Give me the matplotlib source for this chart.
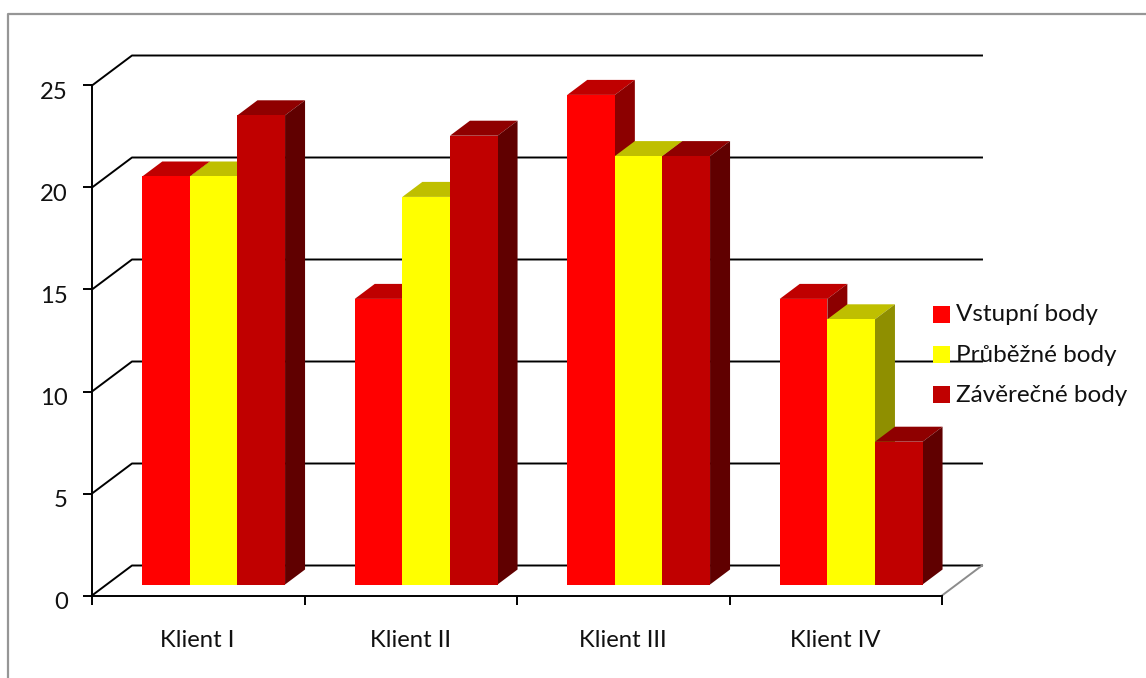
import matplotlib
matplotlib.use('Agg')
import matplotlib.pyplot as plt
from matplotlib.patches import Polygon, Rectangle
from matplotlib.transforms import ScaledTranslation

plt.rcParams['font.family'] = ['Lato', 'DejaVu Sans']

clients = ['Klient I', 'Klient II', 'Klient III', 'Klient IV']
vstupni = [20, 14, 24, 14]
prubezne = [20, 19, 21, 13]
zaverecne = [23, 22, 21, 7]
series_names = ['Vstupní body', 'Průběžné body', 'Závěrečné body']
y_ticks = [0, 5, 10, 15, 20, 25]

# front, top, side
red_faces = ['#ff0000', '#bf0000', '#8c0000']
yellow_faces = ['#ffff00', '#bfbf00', '#8f8f00']
dark_faces = ['#c00000', '#8f0000', '#600000']

W, H = 1146, 678
AX_L, AX_R, AX_T, AX_B = 92, 942, 85.5, 595.5
fig = plt.figure(figsize=(W / 100, H / 100), dpi=100)
ax = fig.add_axes([AX_L / W, 1 - AX_B / H, (AX_R - AX_L) / W, (AX_B - AX_T) / H])
ax.set_xlim(0, 4)
ax.set_ylim(0, 25)
ax.patch.set_alpha(0)

# one pixel expressed in data units
px_x = 4 / (AX_R - AX_L)
px_y = 25 / (AX_B - AX_T)

# outer frame of the chart area
fig.add_artist(plt.Line2D([7.7 / W, 7.7 / W, 1], [0, 1 - 13.5 / H, 1 - 13.5 / H],
                          color='#969696', lw=1.6))

# back wall grid and the slanted lines on the side wall
wall_dx, wall_dy = 40 * px_x, 30 * px_y
for v in y_ticks:
    ax.plot([0, wall_dx, 4 + wall_dx], [v, v + wall_dy, v + wall_dy],
            color='black', lw=1.4, clip_on=False, zorder=1)
ax.plot([4, 4 + wall_dx], [0, wall_dy], color='#8c8c8c', lw=1.4, clip_on=False, zorder=1)

bar_w = 47.6 * px_x
first_left = 0.2365
floor = 11 * px_y
depth_x, depth_y = 20 * px_x, 15 * px_y


def draw_bar(left, value, faces, z):
    top = floor + value
    right = left + bar_w
    ax.add_patch(Polygon([(left, top), (right, top), (right + depth_x, top + depth_y),
                          (left + depth_x, top + depth_y)], closed=True,
                         fc=faces[1], ec='none', clip_on=False, zorder=z))
    ax.add_patch(Polygon([(right, floor), (right + depth_x, floor + depth_y),
                          (right + depth_x, top + depth_y), (right, top)], closed=True,
                         fc=faces[2], ec='none', clip_on=False, zorder=z))
    ax.add_patch(Rectangle((left, floor), bar_w, value, fc=faces[0], ec='none',
                           clip_on=False, zorder=z))


for i in range(len(clients)):
    row = [vstupni[i], prubezne[i], zaverecne[i]]
    for j, (val, faces) in enumerate(zip(row, [red_faces, yellow_faces, dark_faces])):
        draw_bar(i + first_left + j * bar_w, val, faces, 2 + i + j * 0.1)

# axes
for s in ['top', 'right']:
    ax.spines[s].set_visible(False)
for s in ['left', 'bottom']:
    ax.spines[s].set_linewidth(1.4)
    ax.spines[s].set_zorder(10)
ax.set_yticks(y_ticks)
ax.set_xticks(range(5))
ax.set_xticklabels([])
ax.tick_params(axis='both', which='major', length=6.5, width=1.4, color='black',
               labelsize=17.2, labelcolor='#111111')
ax.tick_params(axis='y', pad=11)
ax.set_xticks([0.497, 1.5, 2.498, 3.5], labels=clients, minor=True)
ax.tick_params(axis='x', which='minor', length=0, pad=24.5, labelsize=17.2, labelcolor='#111111')

# y labels sit a little below their ticks
for lbl in ax.get_yticklabels():
    lbl.set_transform(lbl.get_transform() + ScaledTranslation(0, -5 / 100, fig.dpi_scale_trans))

# legend
legend_colors = [red_faces[0], yellow_faces[0], dark_faces[0]]
for name, col, y in zip(series_names, legend_colors, [314.5, 354.5, 394.5]):
    fig.add_artist(Rectangle((933 / W, 1 - (y + 8.5) / H), 17 / W, 17 / H, fc=col, ec='none',
                             transform=fig.transFigure, zorder=20))
    fig.text(956 / W, 1 - (y + 0.5) / H, name, fontsize=17.5, color='#111111', va='center', ha='left', zorder=20)

fig.savefig('out.png', dpi=100)
